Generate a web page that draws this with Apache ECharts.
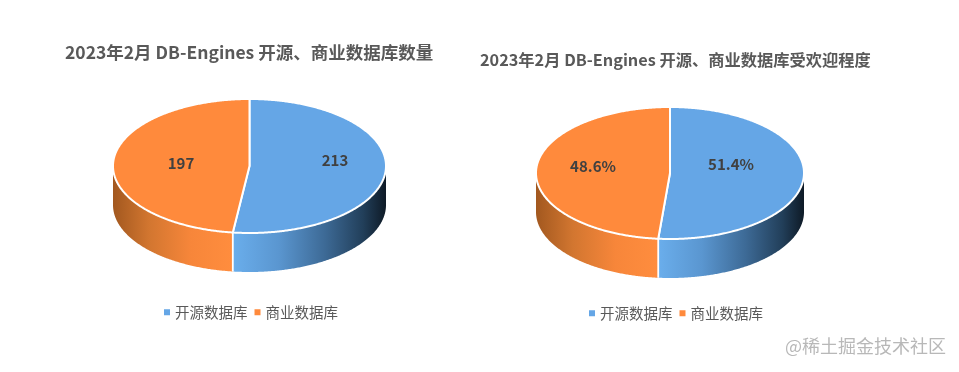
<!DOCTYPE html>
<html><head><meta charset="utf-8">
<style>html,body{margin:0;padding:0;background:#fff}#c{width:959px;height:372px}</style>
<script src="https://cdn.jsdelivr.net/npm/echarts@6/dist/echarts.min.js"></script>
</head><body><div id="c"></div>
<script>
const categories = ['开源数据库', '商业数据库'];
const countValues = [213, 197];
const shareValues = [51.4, 48.6];
const chartTitles = ['2023年2月 DB-Engines 开源、商业数据库数量', '2023年2月 DB-Engines 开源、商业数据库受欢迎程度'];
const watermark = '@稀土掘金技术社区';

const palette = ['#65A6E6', '#FF8A3C'];
const wallStops = [
  [[0, '#6AAEEC'], [0.3, '#5A96D0'], [0.6, '#3D6A96'], [0.85, '#223F5A'], [1, '#0E1A26']],
  [[0, '#A2581F'], [0.3, '#D27630'], [0.65, '#F7863A'], [1, '#FF8D3E']]
];
const pies = [
  { cx: 249.5, cy: 166, rx: 136.5, ry: 67, depth: 39, values: countValues, suffix: '', labels: [[335, 160], [181, 163]], legendLeft: 164, legendTop: 305 },
  { cx: 670, cy: 173, rx: 134, ry: 66, depth: 39, values: shareValues, suffix: '%', labels: [[731, 164], [593, 166]], legendLeft: 589, legendTop: 306 }
];

function pt(p, deg, dy) {
  const a = deg * Math.PI / 180;
  return [p.cx + p.rx * Math.sin(a), p.cy - p.ry * Math.cos(a) + (dy || 0)];
}
function arc(p, from, to, dy) {
  const out = [], n = Math.max(2, Math.ceil(Math.abs(to - from) * 2));
  for (let i = 0; i <= n; i++) out.push(pt(p, from + (to - from) * i / n, dy));
  return out;
}
function sliceRenderer(p, idx) {
  return function (params, api) {
    const total = p.values.reduce((a, b) => a + b, 0);
    const startVal = p.values.slice(0, idx).reduce((a, b) => a + b, 0);
    const value = api.value(0);
    const start = startVal / total * 360, end = (startVal + value) / total * 360;
    const children = [];
    const wFrom = Math.max(start, 90), wTo = Math.min(end, 270);
    if (wTo > wFrom) {
      const top = arc(p, wFrom, wTo, 0), bottom = arc(p, wTo, wFrom, p.depth);
      children.push({
        type: 'polygon', z2: 1,
        shape: { points: top.concat(bottom) },
        style: { fill: new echarts.graphic.LinearGradient(0, 0, 1, 0, wallStops[idx].map(s => ({ offset: s[0], color: s[1] }))) }
      });
    }
    if (start > 90 && start < 270) {
      const a = pt(p, start, 0), b = pt(p, start, p.depth);
      children.push({ type: 'line', z2: 2, shape: { x1: a[0], y1: a[1], x2: b[0], y2: b[1] }, style: { stroke: '#fff', lineWidth: 1.8 } });
    }
    children.push({
      type: 'polygon', z2: 3,
      shape: { points: [[p.cx, p.cy]].concat(arc(p, start, end, 0)) },
      style: { fill: palette[idx], stroke: '#fff', lineWidth: 2, lineJoin: 'round' }
    });
    children.push({
      type: 'text', z2: 4, x: p.labels[idx][0], y: p.labels[idx][1],
      style: { text: value + p.suffix, fill: '#404040', font: 'bold 15px "Noto Sans CJK SC","Noto Sans",sans-serif', align: 'center', verticalAlign: 'middle' }
    });
    return { type: 'group', children };
  };
}

const series = [];
pies.forEach(p => {
  categories.forEach((name, idx) => {
    series.push({
      type: 'custom', name, coordinateSystem: 'none', silent: true, z: 2,
      itemStyle: { color: palette[idx] },
      data: [[p.values[idx]]],
      renderItem: sliceRenderer(p, idx)
    });
  });
});

const fam = '"Noto Sans CJK SC","Noto Sans",sans-serif';
const chart = echarts.init(document.getElementById('c'), null, { renderer: 'canvas' });
chart.setOption({
  animation: false,
  color: palette,
  title: [
    { text: chartTitles[0], left: 65, top: 44, padding: 0, textStyle: { fontFamily: fam, fontWeight: 'bold', fontSize: 17.5, color: '#595959' } },
    { text: chartTitles[1], left: 480, top: 52, padding: 0, textStyle: { fontFamily: fam, fontWeight: 'bold', fontSize: 16.25, color: '#595959' } },
    { text: watermark, left: 785, top: 337, padding: 0, textStyle: { fontFamily: fam, fontSize: 18, fontWeight: 'normal', color: '#B8B8B8' } }
  ],
  legend: pies.map(p => ({
    left: p.legendLeft, top: p.legendTop, padding: 0, itemWidth: 6, itemHeight: 6, itemGap: 7,
    icon: 'rect', selectedMode: false, data: categories,
    textStyle: { fontFamily: fam, fontSize: 14.5, color: '#595959' }
  })),
  series
});
</script></body></html>
